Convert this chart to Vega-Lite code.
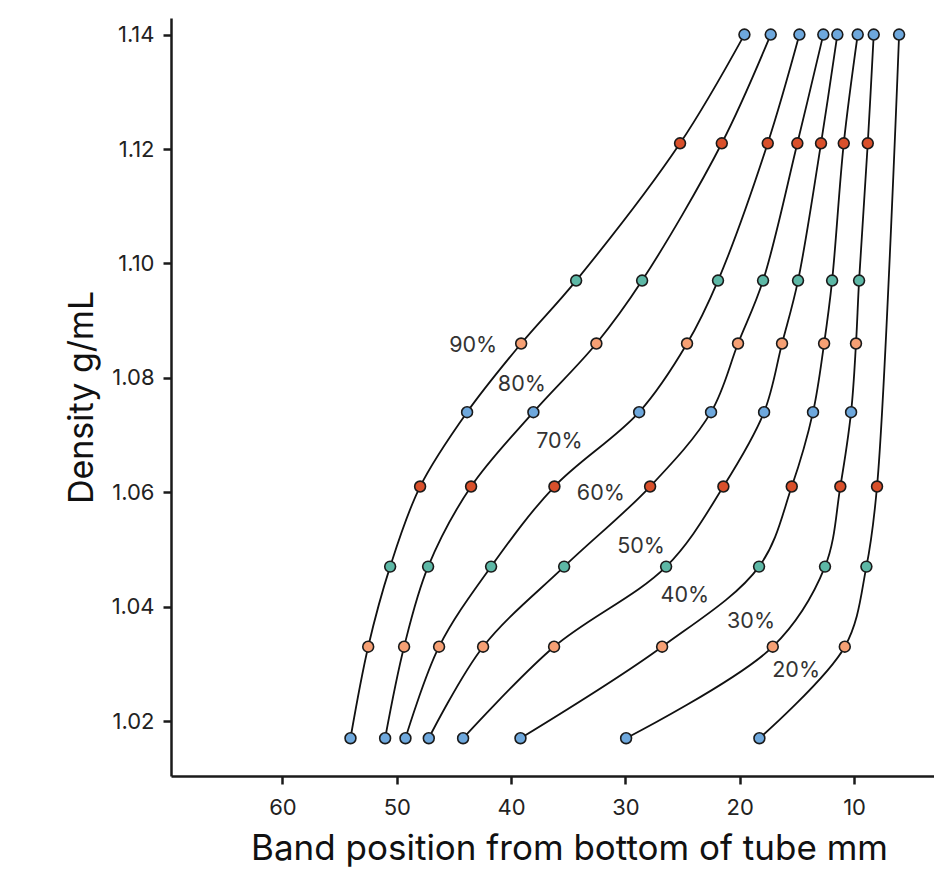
{
  "$schema": "https://vega.github.io/schema/vega-lite/v6.json",
  "width": 796,
  "height": 758,
  "autosize": "none",
  "padding": {"left": 171, "top": 18, "right": 0, "bottom": 93},
  "background": "white",
  "config": {
    "view": {"stroke": null},
    "font": "Inter",
    "axis": {
      "grid": false,
      "domainColor": "#1a1a1a",
      "domainWidth": 2.5,
      "tickColor": "#1a1a1a",
      "tickWidth": 2.5,
      "tickSize": 8,
      "labelFont": "Inter",
      "labelFontSize": 22,
      "labelColor": "#222222",
      "titleFont": "Inter",
      "titleFontWeight": "normal",
      "titleColor": "#111111"
    }
  },
  "datasets": {
    "bands": [
      {"curve": "90%", "density": 1.140, "pos": 19.59},
      {"curve": "90%", "density": 1.121, "pos": 25.22},
      {"curve": "90%", "density": 1.097, "pos": 34.31},
      {"curve": "90%", "density": 1.086, "pos": 39.12},
      {"curve": "90%", "density": 1.074, "pos": 43.85},
      {"curve": "90%", "density": 1.061, "pos": 47.96},
      {"curve": "90%", "density": 1.047, "pos": 50.58},
      {"curve": "90%", "density": 1.033, "pos": 52.50},
      {"curve": "90%", "density": 1.017, "pos": 54.05},
      {"curve": "80%", "density": 1.140, "pos": 17.29},
      {"curve": "80%", "density": 1.121, "pos": 21.57},
      {"curve": "80%", "density": 1.097, "pos": 28.54},
      {"curve": "80%", "density": 1.086, "pos": 32.54},
      {"curve": "80%", "density": 1.074, "pos": 38.05},
      {"curve": "80%", "density": 1.061, "pos": 43.50},
      {"curve": "80%", "density": 1.047, "pos": 47.26},
      {"curve": "80%", "density": 1.033, "pos": 49.36},
      {"curve": "80%", "density": 1.017, "pos": 51.02},
      {"curve": "70%", "density": 1.140, "pos": 14.78},
      {"curve": "70%", "density": 1.121, "pos": 17.55},
      {"curve": "70%", "density": 1.097, "pos": 21.90},
      {"curve": "70%", "density": 1.086, "pos": 24.61},
      {"curve": "70%", "density": 1.074, "pos": 28.80},
      {"curve": "70%", "density": 1.061, "pos": 36.21},
      {"curve": "70%", "density": 1.047, "pos": 41.75},
      {"curve": "70%", "density": 1.033, "pos": 46.30},
      {"curve": "70%", "density": 1.017, "pos": 49.24},
      {"curve": "60%", "density": 1.140, "pos": 12.69},
      {"curve": "60%", "density": 1.121, "pos": 14.96},
      {"curve": "60%", "density": 1.097, "pos": 17.96},
      {"curve": "60%", "density": 1.086, "pos": 20.15},
      {"curve": "60%", "density": 1.074, "pos": 22.51},
      {"curve": "60%", "density": 1.061, "pos": 27.84},
      {"curve": "60%", "density": 1.047, "pos": 35.36},
      {"curve": "60%", "density": 1.033, "pos": 42.45},
      {"curve": "60%", "density": 1.017, "pos": 47.20},
      {"curve": "50%", "density": 1.140, "pos": 11.46},
      {"curve": "50%", "density": 1.121, "pos": 12.89},
      {"curve": "50%", "density": 1.097, "pos": 14.90},
      {"curve": "50%", "density": 1.086, "pos": 16.30},
      {"curve": "50%", "density": 1.074, "pos": 17.87},
      {"curve": "50%", "density": 1.061, "pos": 21.43},
      {"curve": "50%", "density": 1.047, "pos": 26.44},
      {"curve": "50%", "density": 1.033, "pos": 36.24},
      {"curve": "50%", "density": 1.017, "pos": 44.20},
      {"curve": "40%", "density": 1.140, "pos": 9.68},
      {"curve": "40%", "density": 1.121, "pos": 10.90},
      {"curve": "40%", "density": 1.097, "pos": 11.92},
      {"curve": "40%", "density": 1.086, "pos": 12.62},
      {"curve": "40%", "density": 1.074, "pos": 13.59},
      {"curve": "40%", "density": 1.061, "pos": 15.45},
      {"curve": "40%", "density": 1.047, "pos": 18.31},
      {"curve": "40%", "density": 1.033, "pos": 26.79},
      {"curve": "40%", "density": 1.017, "pos": 39.18},
      {"curve": "30%", "density": 1.140, "pos": 8.28},
      {"curve": "30%", "density": 1.121, "pos": 8.80},
      {"curve": "30%", "density": 1.097, "pos": 9.56},
      {"curve": "30%", "density": 1.086, "pos": 9.83},
      {"curve": "30%", "density": 1.074, "pos": 10.26},
      {"curve": "30%", "density": 1.061, "pos": 11.20},
      {"curve": "30%", "density": 1.047, "pos": 12.54},
      {"curve": "30%", "density": 1.033, "pos": 17.11},
      {"curve": "30%", "density": 1.017, "pos": 29.94},
      {"curve": "20%", "density": 1.140, "pos": 6.06},
      {"curve": "20%", "density": 1.061, "pos": 7.99},
      {"curve": "20%", "density": 1.047, "pos": 8.92},
      {"curve": "20%", "density": 1.033, "pos": 10.81},
      {"curve": "20%", "density": 1.017, "pos": 18.28}
    ],
    "labels": [
      {"label": "90%", "pos": 43.32, "density": 1.0855},
      {"label": "80%", "pos": 39.06, "density": 1.0788},
      {"label": "70%", "pos": 35.77, "density": 1.0688},
      {"label": "60%", "pos": 32.15, "density": 1.0597},
      {"label": "50%", "pos": 28.63, "density": 1.0504},
      {"label": "40%", "pos": 24.80, "density": 1.0419},
      {"label": "30%", "pos": 19.01, "density": 1.0374},
      {"label": "20%", "pos": 15.07, "density": 1.0288}
    ]
  },
  "encoding": {
    "x": {
      "field": "pos",
      "type": "quantitative",
      "scale": {"domain": [0.12, 69.75], "reverse": true, "nice": false, "zero": false},
      "axis": {
        "values": [10, 20, 30, 40, 50, 60],
        "format": "d",
        "labelPadding": 13,
        "title": "Band position from bottom of tube mm",
        "titleFontSize": 35,
        "titlePadding": 13
      }
    },
    "y": {
      "field": "density",
      "type": "quantitative",
      "scale": {"domain": [1.0104, 1.1429], "nice": false, "zero": false},
      "axis": {
        "values": [1.02, 1.04, 1.06, 1.08, 1.10, 1.12, 1.14],
        "format": ".2f",
        "labelPadding": 9,
        "title": "Density g/mL",
        "titleFontSize": 34,
        "titlePadding": 12
      }
    }
  },
  "layer": [
    {
      "data": {"name": "bands"},
      "mark": {"type": "line", "interpolate": "catmull-rom", "color": "#111111", "strokeWidth": 1.8},
      "encoding": {
        "detail": {"field": "curve", "type": "nominal"},
        "order": {"field": "density", "type": "quantitative"}
      }
    },
    {
      "data": {"name": "bands"},
      "mark": {"type": "point", "shape": "circle", "filled": true, "size": 118, "stroke": "#1a1a1a", "strokeWidth": 1.6, "opacity": 1},
      "encoding": {
        "color": {
          "field": "density",
          "type": "nominal",
          "scale": {
            "domain": [1.14, 1.121, 1.097, 1.086, 1.074, 1.061, 1.047, 1.033, 1.017],
            "range": ["#6ea8dd", "#d9502b", "#5db8a6", "#f6a074", "#6ea8dd", "#d9502b", "#5db8a6", "#f6a074", "#6ea8dd"]
          },
          "legend": null
        }
      }
    },
    {
      "data": {"name": "labels"},
      "mark": {"type": "text", "font": "Inter", "fontSize": 21.5, "color": "#333333", "align": "center", "baseline": "middle"},
      "encoding": {
        "text": {"field": "label", "type": "nominal"}
      }
    }
  ]
}
